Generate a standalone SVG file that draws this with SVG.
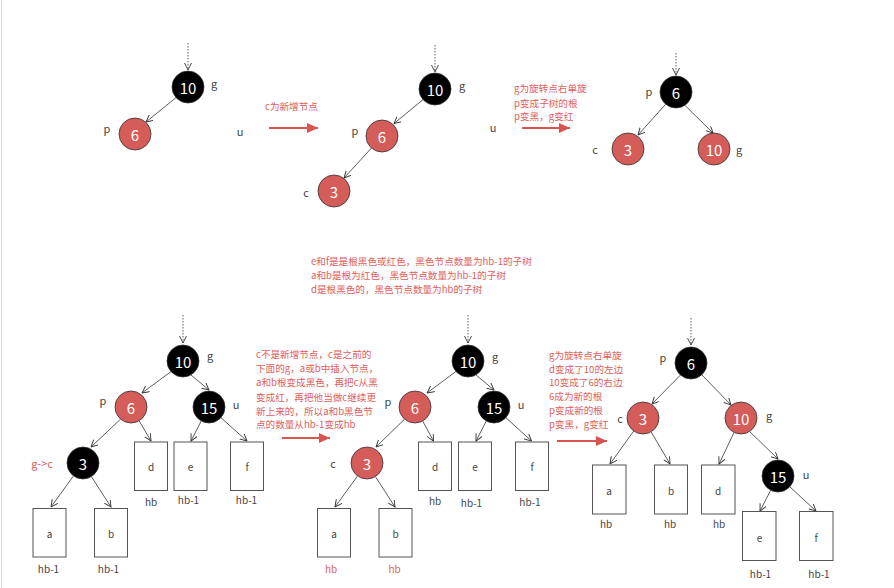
<svg xmlns="http://www.w3.org/2000/svg" width="894" height="588" viewBox="0 0 894 588">
<style>
text{font-family:"Noto Sans CJK SC","Noto Sans",sans-serif}
.blk{fill:#000;stroke:#333;stroke-width:0.8}
.red{fill:#d45c59;stroke:#333;stroke-width:0.8}
.num{fill:#fff;font-size:15px;text-anchor:middle;dominant-baseline:central}
.lbl{fill:#444;font-size:11px;text-anchor:middle;dominant-baseline:central}
.rlbl{fill:#e0605c;font-size:11px;text-anchor:middle;dominant-baseline:central}
.box{fill:#fff;stroke:#555;stroke-width:1}
.bt{fill:#444;font-size:10px;text-anchor:middle;dominant-baseline:central}
.note{fill:#e0605c;font-size:9.6px}
.e{stroke:#333;stroke-width:0.8;fill:none;marker-end:url(#ah)}
.d{stroke:#333;stroke-width:0.8;stroke-dasharray:1.5 1.5;fill:none;marker-end:url(#ah)}
.ra{stroke:#d9534f;stroke-width:2;fill:none;marker-end:url(#rh)}
</style>
<defs>
<marker id="ah" markerUnits="userSpaceOnUse" markerWidth="9" markerHeight="9" refX="7" refY="3.5" orient="auto"><path d="M0,0 L7,3.5 L0,7" fill="none" stroke="#333" stroke-width="0.9"/></marker>
<marker id="rh" markerUnits="userSpaceOnUse" markerWidth="12" markerHeight="10" refX="11" refY="5" orient="auto"><path d="M0,0 L11,5 L0,10 Z" fill="#d9534f"/></marker>
</defs>
<rect width="894" height="588" fill="#fff"/>
<line x1="1.5" y1="0" x2="1.5" y2="588" stroke="#ddd" stroke-width="1"/>

<g id="connectors">
<line class="d" x1="188" y1="43" x2="188" y2="70"/>
<line class="e" x1="176" y1="97.6" x2="146" y2="122"/>
<line class="d" x1="435" y1="45" x2="435" y2="72"/>
<line class="e" x1="423" y1="99.6" x2="394" y2="123.5"/>
<line class="e" x1="371.5" y1="148" x2="344" y2="178"/>
<line class="d" x1="676" y1="53" x2="676" y2="75"/>
<line class="e" x1="665.7" y1="104.2" x2="638" y2="135"/>
<line class="e" x1="684.9" y1="105.3" x2="713" y2="133"/>

<line class="d" x1="183" y1="315" x2="183" y2="343"/>
<line class="e" x1="171" y1="371.6" x2="142" y2="393"/>
<line class="e" x1="190.9" y1="374.9" x2="209" y2="390"/>
<line class="e" x1="120.6" y1="419.1" x2="91" y2="447"/>
<line class="e" x1="139.1" y1="420.8" x2="151" y2="441"/>
<line class="e" x1="201.2" y1="421" x2="191" y2="441"/>
<line class="e" x1="220.9" y1="417.7" x2="247" y2="441"/>
<line class="e" x1="73.5" y1="475.9" x2="51" y2="507"/>
<line class="e" x1="91.4" y1="476.6" x2="111" y2="507"/>

<line class="d" x1="468" y1="315" x2="468" y2="343"/>
<line class="e" x1="455.9" y1="371.5" x2="427" y2="393"/>
<line class="e" x1="475.9" y1="374.9" x2="494" y2="390"/>
<line class="e" x1="404.6" y1="419.1" x2="376" y2="447"/>
<line class="e" x1="422.7" y1="421" x2="433.5" y2="441"/>
<line class="e" x1="486.3" y1="421" x2="476" y2="441"/>
<line class="e" x1="505.9" y1="417.7" x2="531.5" y2="441"/>
<line class="e" x1="357.6" y1="475.9" x2="335" y2="507"/>
<line class="e" x1="375.4" y1="476.6" x2="395" y2="507"/>

<line class="d" x1="691" y1="318" x2="691" y2="345"/>
<line class="e" x1="680.5" y1="375" x2="652" y2="404"/>
<line class="e" x1="701.8" y1="374.8" x2="731" y2="405"/>
<line class="e" x1="633.7" y1="431" x2="610" y2="464"/>
<line class="e" x1="651.1" y1="431.8" x2="670" y2="464"/>
<line class="e" x1="734.1" y1="432.4" x2="719" y2="464"/>
<line class="e" x1="749.6" y1="431.5" x2="778" y2="459"/>
<line class="e" x1="770.7" y1="490.2" x2="760" y2="511"/>
<line class="e" x1="789.8" y1="486.8" x2="816" y2="511"/>

<line class="ra" x1="269" y1="128" x2="318" y2="128"/>
<line class="ra" x1="522" y1="128" x2="570" y2="128"/>
<line class="ra" x1="282" y1="438" x2="330" y2="438"/>
<line class="ra" x1="557" y1="441" x2="607" y2="441"/>
</g>

<!-- top tree 1 -->
<g id="t1-g"><circle class="blk" cx="188" cy="87" r="16"/><text class="num" x="188" y="87">10</text><text class="lbl" x="214" y="83">g</text></g>
<g id="t1-p"><circle class="red" cx="135" cy="134" r="16"/><text class="num" x="135" y="134">6</text><text class="lbl" x="107" y="128">p</text></g>
<g id="t1-u"><text class="lbl" x="240" y="131">u</text></g>
<g id="note1"><text class="note" x="265" y="110">c为新增节点</text></g>

<!-- top tree 2 -->
<g id="t2-g"><circle class="blk" cx="435" cy="89" r="16"/><text class="num" x="435" y="89">10</text><text class="lbl" x="462" y="85">g</text></g>
<g id="t2-p"><circle class="red" cx="382" cy="136" r="16"/><text class="num" x="382" y="136">6</text><text class="lbl" x="355" y="130">p</text></g>
<g id="t2-c"><circle class="red" cx="334" cy="191" r="16"/><text class="num" x="334" y="191">3</text><text class="lbl" x="306" y="192">c</text></g>
<g id="t2-u"><text class="lbl" x="493" y="127">u</text></g>
<g id="note2"><text class="note" x="514" y="92">g为旋转点右单旋</text><text class="note" x="514" y="106.5">p变成子树的根</text><text class="note" x="514" y="120">p变黑，g变红</text></g>

<!-- top tree 3 -->
<g id="t3-p"><circle class="blk" cx="676" cy="92" r="16"/><text class="num" x="676" y="92">6</text><text class="lbl" x="649" y="91">p</text></g>
<g id="t3-c"><circle class="red" cx="628" cy="149" r="16"/><text class="num" x="628" y="149">3</text><text class="lbl" x="595" y="149">c</text></g>
<g id="t3-g"><circle class="red" cx="714" cy="149" r="16"/><text class="num" x="714" y="149">10</text><text class="lbl" x="739" y="149">g</text></g>

<g id="note-mid"><text class="note" x="311" y="265">e和f是是根黑色或红色，黑色节点数量为hb-1的子树</text><text class="note" x="311" y="279">a和b是根为红色，黑色节点数量为hb-1的子树</text><text class="note" x="311" y="292.5">d是根黑色的，黑色节点数量为hb的子树</text></g>

<!-- bottom tree 1 -->
<g id="b1-g"><circle class="blk" cx="183" cy="361" r="16"/><text class="num" x="183" y="361">10</text><text class="lbl" x="210" y="355">g</text></g>
<g id="b1-p"><circle class="red" cx="131" cy="407" r="16"/><text class="num" x="131" y="407">6</text><text class="lbl" x="103" y="400">p</text></g>
<g id="b1-u"><circle class="blk" cx="209" cy="407" r="16"/><text class="num" x="209" y="407">15</text><text class="lbl" x="236" y="404">u</text></g>
<g id="b1-3"><circle class="blk" cx="83" cy="463" r="16"/><text class="num" x="83" y="463">3</text><text class="rlbl" x="42" y="463">g-&gt;c</text></g>
<g id="b1-a"><rect class="box" x="33" y="508.5" width="33" height="48.5"/><text class="bt" x="49.5" y="533">a</text><text class="bt" x="48.5" y="568.5">hb-1</text></g>
<g id="b1-b"><rect class="box" x="94.5" y="508.5" width="33" height="48.5"/><text class="bt" x="111" y="533">b</text><text class="bt" x="108.5" y="568.5">hb-1</text></g>
<g id="b1-d"><rect class="box" x="134.5" y="442" width="33" height="48.5"/><text class="bt" x="151" y="466.5">d</text><text class="bt" x="151" y="501.5">hb</text></g>
<g id="b1-e"><rect class="box" x="174" y="442" width="33" height="48.5"/><text class="bt" x="190.5" y="466.5">e</text><text class="bt" x="188.5" y="499.5">hb-1</text></g>
<g id="b1-f"><rect class="box" x="230.5" y="442" width="33" height="48.5"/><text class="bt" x="247" y="466.5">f</text><text class="bt" x="246.5" y="499">hb-1</text></g>

<g id="note3"><text class="note" x="256" y="357.5">c不是新增节点，c是之前的</text><text class="note" x="256" y="372">下面的g，a或b中插入节点，</text><text class="note" x="256" y="386">a和b根变成黑色，再把c从黑</text><text class="note" x="256" y="400.5">变成红，再把他当做c继续更</text><text class="note" x="256" y="415">新上来的，所以a和b黑色节</text><text class="note" x="256" y="428">点的数量从hb-1变成hb</text></g>

<!-- bottom tree 2 -->
<g id="b2-g"><circle class="blk" cx="468" cy="361" r="16"/><text class="num" x="468" y="361">10</text><text class="lbl" x="495" y="356">g</text></g>
<g id="b2-p"><circle class="red" cx="415" cy="407" r="16"/><text class="num" x="415" y="407">6</text><text class="lbl" x="388" y="401">p</text></g>
<g id="b2-u"><circle class="blk" cx="494" cy="407" r="16"/><text class="num" x="494" y="407">15</text><text class="lbl" x="521" y="404">u</text></g>
<g id="b2-c"><circle class="red" cx="367" cy="463" r="16"/><text class="num" x="367" y="463">3</text><text class="lbl" x="333" y="463">c</text></g>
<g id="b2-a"><rect class="box" x="317.5" y="508.5" width="33" height="48.5"/><text class="bt" x="334" y="533">a</text><text class="rlbl" x="331" y="568.5" style="font-size:10px">hb</text></g>
<g id="b2-b"><rect class="box" x="379" y="508.5" width="33" height="48.5"/><text class="bt" x="395.5" y="533">b</text><text class="rlbl" x="394.5" y="568.5" style="font-size:10px">hb</text></g>
<g id="b2-d"><rect class="box" x="418.5" y="442" width="33" height="48.5"/><text class="bt" x="435" y="466.5">d</text><text class="bt" x="435" y="500">hb</text></g>
<g id="b2-e"><rect class="box" x="458.5" y="442" width="33" height="48.5"/><text class="bt" x="475" y="466.5">e</text><text class="bt" x="471.5" y="502">hb-1</text></g>
<g id="b2-f"><rect class="box" x="515.5" y="442" width="33" height="48.5"/><text class="bt" x="532" y="466.5">f</text><text class="bt" x="530" y="501.5">hb-1</text></g>

<g id="note4"><text class="note" x="549" y="358.5">g为旋转点右单旋</text><text class="note" x="549" y="372.5">d变成了10的左边</text><text class="note" x="549" y="386">10变成了6的右边</text><text class="note" x="549" y="400">6成为新的根</text><text class="note" x="549" y="413.5">p变成新的根</text><text class="note" x="549" y="428">p变黑，g变红</text></g>

<!-- bottom tree 3 -->
<g id="b3-p"><circle class="blk" cx="691" cy="363" r="16"/><text class="num" x="691" y="363">6</text><text class="lbl" x="663" y="357">p</text></g>
<g id="b3-c"><circle class="red" cx="643" cy="418" r="16"/><text class="num" x="643" y="418">3</text><text class="lbl" x="620" y="418">c</text></g>
<g id="b3-g"><circle class="red" cx="741" cy="418" r="16"/><text class="num" x="741" y="418">10</text><text class="lbl" x="769" y="415">g</text></g>
<g id="b3-u"><circle class="blk" cx="778" cy="476" r="16"/><text class="num" x="778" y="476">15</text><text class="lbl" x="806" y="474">u</text></g>
<g id="b3-a"><rect class="box" x="592.5" y="465" width="33.5" height="49"/><text class="bt" x="609" y="490">a</text><text class="bt" x="606" y="523.5">hb</text></g>
<g id="b3-b"><rect class="box" x="654.5" y="465" width="33" height="49"/><text class="bt" x="671" y="490">b</text><text class="bt" x="670" y="523.5">hb</text></g>
<g id="b3-d"><rect class="box" x="701.5" y="465" width="33.5" height="49"/><text class="bt" x="718" y="490">d</text><text class="bt" x="719" y="523.5">hb</text></g>
<g id="b3-e"><rect class="box" x="742.5" y="511.5" width="33.5" height="49"/><text class="bt" x="759.5" y="537">e</text><text class="bt" x="760.5" y="573.5">hb-1</text></g>
<g id="b3-f"><rect class="box" x="799.5" y="511.5" width="33.5" height="49"/><text class="bt" x="816" y="537">f</text><text class="bt" x="819" y="573.5">hb-1</text></g>
</svg>
